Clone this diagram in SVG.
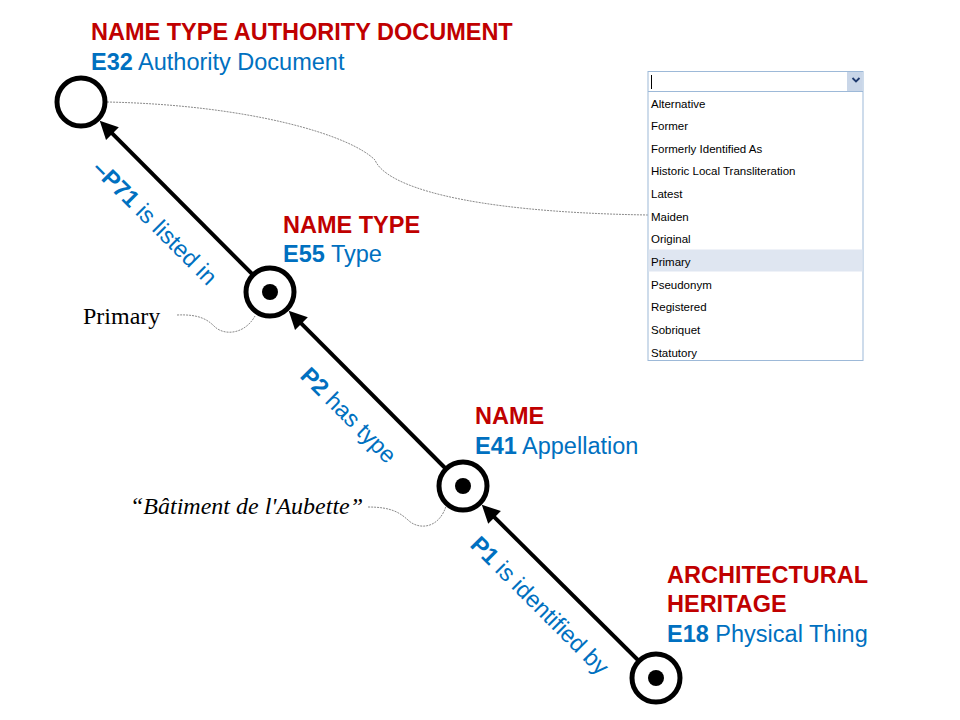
<svg xmlns="http://www.w3.org/2000/svg" width="960" height="720" viewBox="0 0 960 720">
<style>
  .ring{fill:#fff;stroke:#000;stroke-width:5}
  .dot{fill:#000}
  .edge{stroke:#000;stroke-width:4;fill:none}
  .lead{stroke:#8a8a8a;stroke-width:1;fill:none;stroke-dasharray:2 1}
  .cls{font-family:"Liberation Sans",Arial,sans-serif;font-size:23.5px;font-weight:bold;fill:#C00000}
  .ent{font-family:"Liberation Sans",Arial,sans-serif;font-size:23.5px;fill:#0070C0}
  .b{font-weight:bold}
  .prop{font-family:"Liberation Sans",Arial,sans-serif;font-size:23.5px;fill:#0070C0}
  .val{font-family:"Liberation Serif","Times New Roman",serif;font-size:24px;fill:#000}
  .item{font-family:"Liberation Sans",Tahoma,sans-serif;font-size:11.5px;fill:#000}
</style>
<defs>
  <marker id="arr" markerUnits="userSpaceOnUse" markerWidth="30" markerHeight="20" viewBox="-12 -10 30 20" refX="0" refY="0" orient="auto">
    <path d="M-6,-9 L12,0 L-6,9 z" fill="#000"/>
  </marker>
</defs>
<rect width="960" height="720" fill="#fff"/>

<g id="connectors">
  <line class="edge" x1="656" y1="678" x2="490.3" y2="513.2" marker-end="url(#arr)"/>
  <line class="edge" x1="463" y1="486" x2="297.2" y2="319.3" marker-end="url(#arr)"/>
  <line class="edge" x1="270" y1="292" x2="108.2" y2="129.3" marker-end="url(#arr)"/>
  <path class="lead" d="M107,102 C250,105 350,135 375,160 C385,185 460,212 648,215"/>
  <path class="lead" d="M177,315 C200,314 208,320 215,327 C225,336 245,334 255,316"/>
  <path class="lead" d="M368,507 C392,507 400,513 408,520 C418,530 440,530 447,503"/>
  <text class="prop" transform="translate(91,170) rotate(45)"><tspan class="b">–P71</tspan> is listed in</text>
  <text class="prop" transform="translate(299,377) rotate(45)"><tspan class="b">P2</tspan> has type</text>
  <text class="prop" transform="translate(469,546) rotate(45)"><tspan class="b">P1</tspan> is identified by</text>
</g>

<g id="node-e32">
  <circle class="ring" cx="81" cy="102" r="24"/>
  <text class="cls" x="91" y="40">NAME TYPE AUTHORITY DOCUMENT</text>
  <text class="ent" x="91" y="70"><tspan class="b">E32</tspan> Authority Document</text>
</g>

<g id="node-e55">
  <circle class="ring" cx="270" cy="292" r="24"/>
  <circle class="dot" cx="270" cy="292" r="8"/>
  <text class="cls" x="283" y="233">NAME TYPE</text>
  <text class="ent" x="283" y="262"><tspan class="b">E55</tspan> Type</text>
</g>

<g id="node-e41">
  <circle class="ring" cx="463" cy="486" r="24"/>
  <circle class="dot" cx="463" cy="486" r="8"/>
  <text class="cls" x="475" y="424">NAME</text>
  <text class="ent" x="475" y="454"><tspan class="b">E41</tspan> Appellation</text>
</g>

<g id="node-e18">
  <circle class="ring" cx="656" cy="678" r="24"/>
  <circle class="dot" cx="656" cy="678" r="8"/>
  <text class="cls" x="667" y="583">ARCHITECTURAL</text>
  <text class="cls" x="667" y="612">HERITAGE</text>
  <text class="ent" x="667" y="642"><tspan class="b">E18</tspan> Physical Thing</text>
</g>

<g id="value-primary">
  <text class="val" x="83" y="324">Primary</text>
</g>

<g id="value-name">
  <text class="val" x="130" y="514" font-style="italic">“Bâtiment de l'Aubette”</text>
</g>

<g id="dropdown">
  <rect x="648" y="71.5" width="215" height="289" fill="#fff" stroke="#9db9d8" stroke-width="1"/>
  <rect x="648.5" y="249.5" width="214" height="22" fill="#dfe6f1"/>
  <line x1="648" y1="91.5" x2="863" y2="91.5" stroke="#9db9d8" stroke-width="1"/>
  <rect x="847" y="72" width="15.5" height="19" fill="#c9d6e8"/>
  <polyline points="852.5,78 856,81.5 859.5,78" fill="none" stroke="#1f3a6e" stroke-width="1.8"/>
  <line x1="651.5" y1="75" x2="651.5" y2="89" stroke="#000" stroke-width="1"/>
  <text class="item" x="651" y="107.5">Alternative</text>
  <text class="item" x="651" y="130">Former</text>
  <text class="item" x="651" y="152.5">Formerly Identified As</text>
  <text class="item" x="651" y="175">Historic Local Transliteration</text>
  <text class="item" x="651" y="198">Latest</text>
  <text class="item" x="651" y="220.5">Maiden</text>
  <text class="item" x="651" y="243">Original</text>
  <text class="item" x="651" y="266">Primary</text>
  <text class="item" x="651" y="288.5">Pseudonym</text>
  <text class="item" x="651" y="311">Registered</text>
  <text class="item" x="651" y="334">Sobriquet</text>
  <text class="item" x="651" y="356.5">Statutory</text>
</g>
</svg>
